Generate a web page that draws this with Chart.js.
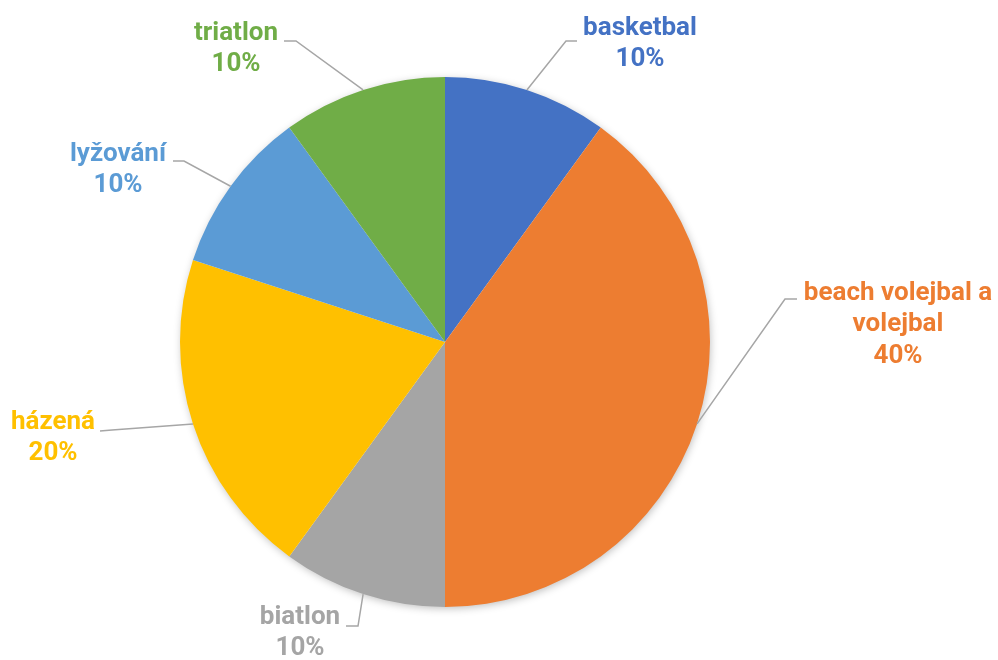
<!DOCTYPE html>
<html>
<head>
<meta charset="utf-8">
<script src="https://cdn.jsdelivr.net/npm/chart.js@4/dist/chart.umd.min.js"></script>
<style>
  html, body { margin: 0; padding: 0; background: #ffffff; }
  #wrap { width: 998px; height: 660px; position: relative; }
</style>
</head>
<body>
<div id="wrap"><canvas id="chart"></canvas></div>
<script>
const categories = ['basketbal', 'beach volejbal a volejbal', 'biatlon', 'házená', 'lyžování', 'triatlon'];
const values = [10, 40, 10, 20, 10, 10];
const colors = ['#4472C4', '#ED7D31', '#A5A5A5', '#FFC000', '#5B9BD5', '#70AD47'];

// label layout (text lines, centre of text block, leader line elbow and end)
const labelLines = [
    ['basketbal'],
    ['beach volejbal a', 'volejbal'],
    ['biatlon'],
    ['házená'],
    ['lyžování'],
    ['triatlon']
];
const labelCenters = [[640, 28], [898, 293], [300, 617], [53, 422], [118, 154], [236, 33]];
const leaderElbows = [[566, 41], [785, 299], [358, 626], [112, 430], [184, 161], [296, 41]];
const leaderEnds = [[577, 41], [797, 299], [346, 626], [100, 431], [173, 161], [284, 41]];

const FONT = "bold 26px Roboto, 'Noto Sans', sans-serif";
const LINE_H = 31.5;

// soft shadow under the whole pie
const pieShadow = {
    id: 'pieShadow',
    beforeDatasetsDraw(chart) {
        const arc = chart.getDatasetMeta(0).data[0];
        if (!arc) return;
        const ctx = chart.ctx;
        ctx.save();
        ctx.shadowColor = 'rgba(0,0,0,0.28)';
        ctx.shadowBlur = 9;
        ctx.shadowOffsetX = 1;
        ctx.shadowOffsetY = 2;
        ctx.fillStyle = '#ffffff';
        ctx.beginPath();
        ctx.arc(arc.x, arc.y, arc.outerRadius - 1, 0, Math.PI * 2);
        ctx.fill();
        ctx.restore();
    }
};

const outsideLabels = {
    id: 'outsideLabels',
    afterDatasetsDraw(chart) {
        const ctx = chart.ctx;
        const meta = chart.getDatasetMeta(0);
        const total = values.reduce((a, b) => a + b, 0);
        ctx.save();
        meta.data.forEach((arc, i) => {
            const mid = (arc.startAngle + arc.endAngle) / 2;
            const sx = arc.x + Math.cos(mid) * arc.outerRadius;
            const sy = arc.y + Math.sin(mid) * arc.outerRadius;

            ctx.strokeStyle = '#A6A6A6';
            ctx.lineWidth = 1.5;
            ctx.beginPath();
            ctx.moveTo(sx, sy);
            ctx.lineTo(leaderElbows[i][0], leaderElbows[i][1]);
            ctx.lineTo(leaderEnds[i][0], leaderEnds[i][1]);
            ctx.stroke();

            const lines = labelLines[i].concat([Math.round(values[i] / total * 100) + '%']);
            ctx.font = FONT;
            ctx.fillStyle = colors[i];
            ctx.textAlign = 'center';
            ctx.textBaseline = 'middle';
            lines.forEach((t, k) => {
                ctx.fillText(t, labelCenters[i][0], labelCenters[i][1] + k * LINE_H);
            });
        });
        ctx.restore();
    }
};

new Chart(document.getElementById('chart'), {
    type: 'pie',
    data: {
        labels: categories,
        datasets: [{
            data: values,
            backgroundColor: colors,
            borderWidth: 0,
            hoverOffset: 0
        }]
    },
    options: {
        responsive: true,
        maintainAspectRatio: false,
        animation: false,
        layout: {
            padding: { top: 77, bottom: 53, left: 180, right: 288 }
        },
        plugins: {
            legend: { display: false },
            tooltip: { enabled: false }
        }
    },
    plugins: [pieShadow, outsideLabels]
});
</script>
</body>
</html>
